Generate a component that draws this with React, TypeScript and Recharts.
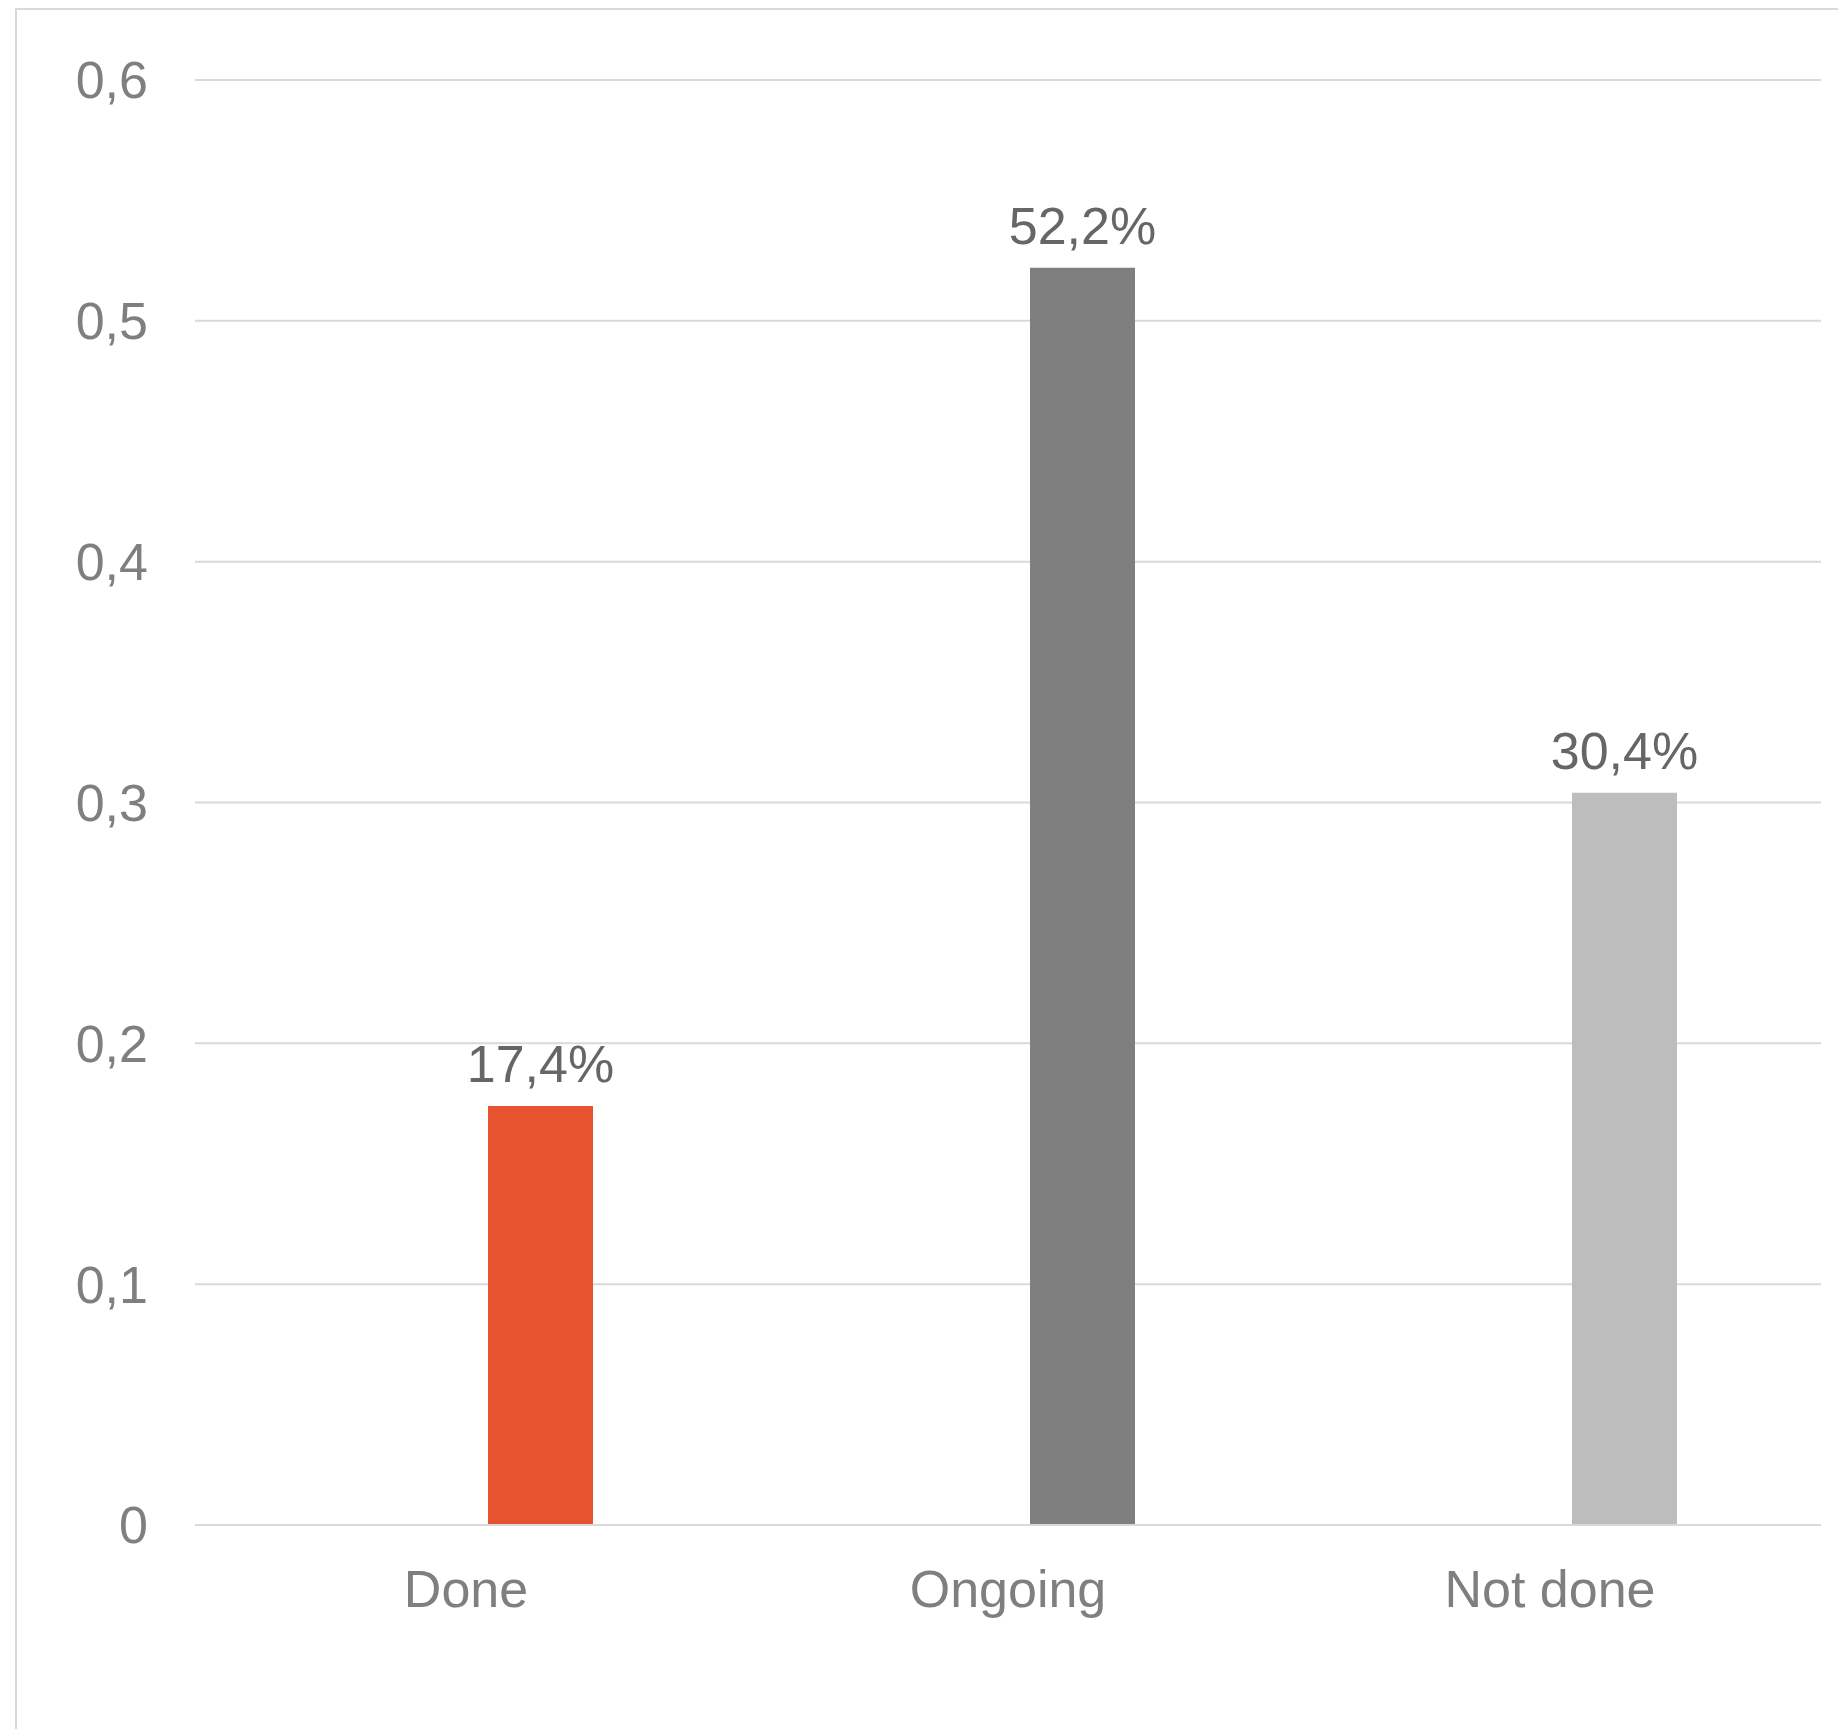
import React from 'react';
import { BarChart, Bar, XAxis, YAxis, CartesianGrid, LabelList, Cell } from 'recharts';

const categories = ['Done', 'Ongoing', 'Not done'];
const shares = [0.174, 0.522, 0.304];
const barColors = ['#E8532F', '#7F7F7F', '#BDBDBD'];
const yTicks = [0, 0.1, 0.2, 0.3, 0.4, 0.5, 0.6];

// Excel placed the bars off-centre (second slot of a cluster), so an empty
// first series keeps that offset.
const data = categories.map((name, i) => ({ name, empty: 0, share: shares[i] }));

const fmtTick = (v: number) => (v === 0 ? '0' : v.toFixed(1).replace('.', ','));
const fmtPct = (v: number) => `${(v * 100).toFixed(1).replace('.', ',')}%`;

const font = '"Liberation Sans", Arial, sans-serif';

const App: React.FC = () => {
  return (
    <div
      style={{
        position: 'absolute',
        left: 0,
        top: 0,
        width: 1838,
        height: 1729,
        overflow: 'hidden',
        background: '#fff',
        fontFamily: font,
      }}
    >
      <div
        style={{
          position: 'absolute',
          left: 15,
          top: 8,
          width: 1900,
          height: 1800,
          border: '2px solid #d9d9d9',
        }}
      />
      <div style={{ position: 'absolute', left: 0, top: 0 }}>
        <BarChart
          width={1838}
          height={1729}
          data={data}
          margin={{ top: 80, right: 17, bottom: 0, left: 0 }}
          barGap={44}
          barSize={105}
        >
          <CartesianGrid vertical={false} stroke="#d9d9d9" strokeWidth={2} />
          <XAxis
            dataKey="name"
            axisLine={{ stroke: '#d9d9d9', strokeWidth: 2 }}
            tickLine={false}
            tickSize={0}
            tickMargin={45}
            height={204}
            tick={{ fill: '#7f7f7f', fontSize: 52, fontFamily: font }}
          />
          <YAxis
            width={195}
            domain={[0, 0.6]}
            ticks={yTicks}
            tickFormatter={fmtTick}
            axisLine={false}
            tickLine={false}
            tickSize={0}
            tickMargin={47}
            tick={{ fill: '#7f7f7f', fontSize: 52, fontFamily: font }}
          />
          <Bar dataKey="empty" fill="transparent" isAnimationActive={false} />
          <Bar dataKey="share" isAnimationActive={false}>
            {data.map((d, i) => (
              <Cell key={d.name} fill={barColors[i]} />
            ))}
            <LabelList
              dataKey="share"
              position="top"
              offset={24}
              formatter={(v: any) => fmtPct(Number(v))}
              style={{ fill: '#666666', fontSize: 52, fontFamily: font }}
            />
          </Bar>
        </BarChart>
      </div>
    </div>
  );
};

export default App;
